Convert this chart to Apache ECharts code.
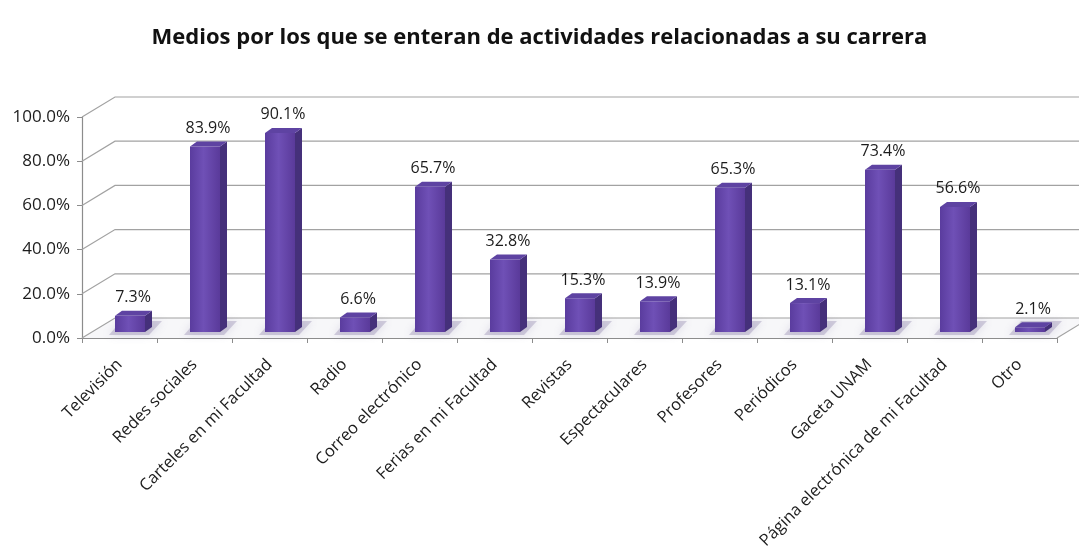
<!DOCTYPE html>
<html>
<head>
<meta charset="utf-8">
<style>
  html, body { margin: 0; padding: 0; background: #ffffff; }
  #chart { width: 1079px; height: 558px; }
</style>
<script src="https://cdn.jsdelivr.net/npm/echarts@6/dist/echarts.min.js"></script>
</head>
<body>
<div id="chart"></div>
<script>
// Survey answers: share of students per information channel (percent)
const categories = [
  'Televisión', 'Redes sociales', 'Carteles en mi Facultad', 'Radio',
  'Correo electrónico', 'Ferias en mi Facultad', 'Revistas', 'Espectaculares',
  'Profesores', 'Periódicos', 'Gaceta UNAM', 'Página electrónica de mi Facultad', 'Otro'
];
const values = [7.3, 83.9, 90.1, 6.6, 65.7, 32.8, 15.3, 13.9, 65.3, 13.1, 73.4, 56.6, 2.1];
const yTicks = [0, 20, 40, 60, 80, 100];
const titleText = 'Medios por los que se enteran de actividades relacionadas a su carrera';

// pseudo-3D drawing constants (pixels)
const DEPTH_X = 33, DEPTH_Y = -20;      // back wall offset from the front plane
const FACE_DX = -4.5, FACE_W = 30;     // bar front face: left offset from category centre, width
const FACE_DY = -6;                    // bar front face lifted into the floor depth
const BAR_DX = 7, BAR_DY = -5;         // bar depth (side / top faces)
const FONT = '"Open Sans", "Liberation Sans", sans-serif';

const chart = echarts.init(document.getElementById('chart'), null, { renderer: 'canvas' });

// back wall grid lines with the diagonal joining each front tick
function renderGrid(params, api) {
  const cs = params.coordSys;
  const v = api.value(1);
  const y = api.coord([0, v])[1];
  const x0 = cs.x, x1 = cs.x + cs.width;
  const children = [{
    type: 'polyline',
    shape: { points: [[x0, y], [x0 + DEPTH_X, y + DEPTH_Y], [x1 + DEPTH_X + 20, y + DEPTH_Y]] },
    style: { stroke: '#a2a2a2', lineWidth: 1.2, fill: null }
  }];
  if (v === 0) {
    // floor plane and its right edge
    children.unshift({
      type: 'polygon',
      shape: { points: [[x0, y], [x1, y], [x1 + DEPTH_X, y + DEPTH_Y], [x0 + DEPTH_X, y + DEPTH_Y]] },
      style: { fill: 'rgba(232,232,238,0.35)' }
    });
    children.push({
      type: 'line',
      shape: { x1: x1, y1: y, x2: x1 + DEPTH_X, y2: y + DEPTH_Y },
      style: { stroke: '#a2a2a2', lineWidth: 1.2 }
    });
  }
  return { type: 'group', children: children };
}

// one 3D column: floor shadow, front, side and top faces, value label
function renderBar(params, api) {
  const i = api.value(0);
  const v = api.value(1);
  const top = api.coord([i, v]);
  const base = api.coord([i, 0]);
  const cx = top[0];
  const fl = cx + FACE_DX, fr = fl + FACE_W;
  const yt = top[1] + FACE_DY, yb = base[1] + FACE_DY;
  return {
    type: 'group',
    children: [
      {
        type: 'polygon',
        shape: { points: [[fl - 6, yb + 3], [fr + 4, yb + 3], [fr + BAR_DX + 10, yb + BAR_DY - 6], [fl + 6, yb + BAR_DY - 6]] },
        style: { fill: 'rgba(140,130,170,0.35)', shadowBlur: 8, shadowColor: 'rgba(120,110,160,0.6)' }
      },
      {
        type: 'polygon',
        shape: { points: [[fr, yt], [fr + BAR_DX, yt + BAR_DY], [fr + BAR_DX, yb + BAR_DY], [fr, yb]] },
        style: { fill: '#45307a' }
      },
      {
        type: 'rect',
        shape: { x: fl, y: yt, width: FACE_W, height: yb - yt },
        style: {
          fill: new echarts.graphic.LinearGradient(0, 0, 1, 0, [
            { offset: 0, color: '#5a3c9e' },
            { offset: 0.45, color: '#6f50b6' },
            { offset: 1, color: '#5a3a9a' }
          ])
        }
      },
      {
        type: 'polygon',
        shape: { points: [[fl, yt], [fl + BAR_DX, yt + BAR_DY], [fr + BAR_DX, yt + BAR_DY], [fr, yt]] },
        style: { fill: '#5e43a2' }
      },
      {
        type: 'text',
        style: {
          text: v.toFixed(1) + '%',
          x: fl + FACE_W / 2 + 3,
          y: yt + BAR_DY - 5,
          align: 'center',
          verticalAlign: 'bottom',
          fill: '#1c1c1c',
          font: '16px ' + FONT
        }
      }
    ]
  };
}

chart.setOption({
  backgroundColor: '#ffffff',
  animation: false,
  title: {
    text: titleText,
    left: 'center',
    top: 22,
    textStyle: { fontFamily: FONT, fontSize: 22, fontWeight: 'bold', color: '#111111' }
  },
  grid: { left: 82, right: 22, top: 117, bottom: 220, containLabel: false },
  xAxis: {
    type: 'category',
    data: categories,
    boundaryGap: true,
    axisLine: { lineStyle: { color: '#8c8c8c', width: 1.2 } },
    axisTick: { show: true, length: 5, lineStyle: { color: '#8c8c8c' } },
    axisLabel: {
      interval: 0,
      rotate: 45,
      margin: 24,
      fontFamily: FONT,
      fontSize: 16.5,
      color: '#1c1c1c'
    },
    splitLine: { show: false }
  },
  yAxis: {
    type: 'value',
    min: 0,
    max: 100,
    interval: 20,
    axisLine: { show: true, lineStyle: { color: '#8c8c8c', width: 1.2 } },
    axisTick: { show: true, length: 5, lineStyle: { color: '#8c8c8c' } },
    axisLabel: {
      margin: 12,
      fontFamily: FONT,
      fontSize: 17,
      color: '#1c1c1c',
      formatter: function (v) { return v.toFixed(1) + '%'; }
    },
    splitLine: { show: false }
  },
  series: [
    {
      type: 'custom',
      name: 'grid',
      renderItem: renderGrid,
      clip: false,
      silent: true,
      z: 1,
      data: yTicks.map(function (t) { return [0, t]; })
    },
    {
      type: 'custom',
      name: 'Medios',
      renderItem: renderBar,
      clip: false,
      z: 3,
      data: values.map(function (v, i) { return [i, v]; })
    }
  ]
});
</script>
</body>
</html>
